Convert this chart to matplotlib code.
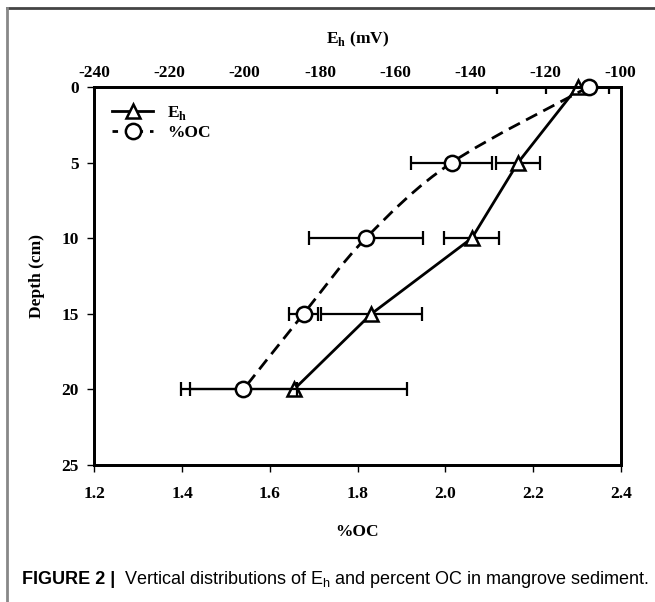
import numpy as np
import matplotlib
matplotlib.use("Agg")
import matplotlib.pyplot as plt
from matplotlib.path import Path
from matplotlib.patches import PathPatch
from matplotlib.lines import Line2D

# data
depth = [0, 5, 10, 15, 20]
eh = [-111.5, -127.3, -139.6, -166.3, -186.9]
eh_err = [8.3, 5.9, 7.3, 13.5, 30.0]
oc = [2.327, 2.015, 1.819, 1.677, 1.540]
oc_err = [0.208, 0.092, 0.130, 0.034, 0.122]

oc_ticks = [1.2, 1.4, 1.6, 1.8, 2.0, 2.2, 2.4]
eh_ticks = [-240, -220, -200, -180, -160, -140, -120, -100]
depth_ticks = [0, 5, 10, 15, 20, 25]

plt.rcParams['font.family'] = ['Liberation Serif', 'DejaVu Serif']
plt.rcParams['font.weight'] = 'bold'
plt.rcParams['axes.unicode_minus'] = False

fig = plt.figure(figsize=(6.55, 6.02), dpi=100)
ax = fig.add_axes([0.144, 0.2276, 0.8037, 0.628])
ax2 = ax.twiny()

# Eh on the top axis
ax2.errorbar(eh, depth, xerr=eh_err, fmt='none', ecolor='black',
             elinewidth=1.6, capsize=5, capthick=1.6)
ax2.plot(eh, depth, color='black', lw=2, marker='^', ms=10,
         mfc='white', mec='black', mew=1.8, clip_on=False)
ax2.set_xlim(-240, -100)
ax2.set_xticks(eh_ticks)
ax2.tick_params(axis='x', direction='in', length=0, labelsize=12.5, pad=4)
ax2.set_xlabel('E$_\\mathregular{h}$ (mV)', fontsize=12.5, fontweight='bold', labelpad=16)

# %OC on the bottom axis, smoothed dashed line like the spreadsheet
ax.set_zorder(ax2.get_zorder() + 1)
ax.patch.set_visible(False)
ax.errorbar(oc, depth, xerr=oc_err, fmt='none', ecolor='black',
            elinewidth=1.6, capsize=5, capthick=1.6)
pts = np.column_stack([oc, depth])
verts = [pts[0]]
codes = [Path.MOVETO]
for i in range(len(pts) - 1):
    p0 = pts[max(i - 1, 0)]
    p1 = pts[i]
    p2 = pts[i + 1]
    p3 = pts[min(i + 2, len(pts) - 1)]
    verts += [p1 + (p2 - p0) / 6, p2 - (p3 - p1) / 6, p2]
    codes += [Path.CURVE4] * 3
ax.add_patch(PathPatch(Path(verts, codes), fill=False, ec='black', lw=2,
                       ls=(0, (4.5, 2.5)), zorder=2))
ax.plot(oc, depth, ls='none', marker='o', ms=11, mfc='white',
        mec='black', mew=1.8, zorder=3, clip_on=False)

ax.set_xlim(1.2, 2.4)
ax.set_ylim(25, 0)
ax.set_xticks(oc_ticks)
ax.set_xticklabels(['%.1f' % t for t in oc_ticks])
ax.set_yticks(depth_ticks)
ax.tick_params(axis='both', direction='out', length=5, width=1,
               labelsize=12.5, pad=6)
ax.tick_params(axis='x', pad=10)
ax.set_xlabel('%OC', fontsize=12.5, fontweight='bold', labelpad=16)
ax.set_ylabel('Depth (cm)', fontsize=12.5, fontweight='bold', labelpad=12)
for a in (ax, ax2):
    for s in a.spines.values():
        s.set_linewidth(2)

handles = [Line2D([], [], color='black', lw=2, marker='^', ms=10,
                  mfc='white', mec='black', mew=1.8),
           Line2D([], [], color='black', lw=2, ls=(0, (2, 2.5)), marker='o',
                  ms=11, mfc='white', mec='black', mew=1.8)]
ax.legend(handles, ['E$_\\mathregular{h}$', '%OC'], loc='upper left',
          frameon=False, prop={'weight': 'bold', 'size': 12.5},
          handlelength=2.4, borderaxespad=0.6, labelspacing=0.15)

# page frame and caption
fig.add_artist(Line2D([7 / 655, 1], [1 - 8 / 602, 1 - 8 / 602],
                      transform=fig.transFigure, color='#444444', lw=2))
fig.add_artist(Line2D([7 / 655, 7 / 655], [0, 1 - 8 / 602],
                      transform=fig.transFigure, color='#888888', lw=2))
fig.text(22 / 655, 1 - 580 / 602, 'FIGURE 2 |', fontsize=13,
         fontweight='bold', family=['Liberation Sans', 'DejaVu Sans'],
         va='center', ha='left')
fig.text(124 / 655, 1 - 580 / 602,
         'Vertical distributions of E$_\\mathregular{h}$ and percent OC in mangrove sediment.',
         fontsize=13, fontweight='normal',
         family=['Liberation Sans', 'DejaVu Sans'], va='center', ha='left')

fig.savefig('out.png', dpi=100)
